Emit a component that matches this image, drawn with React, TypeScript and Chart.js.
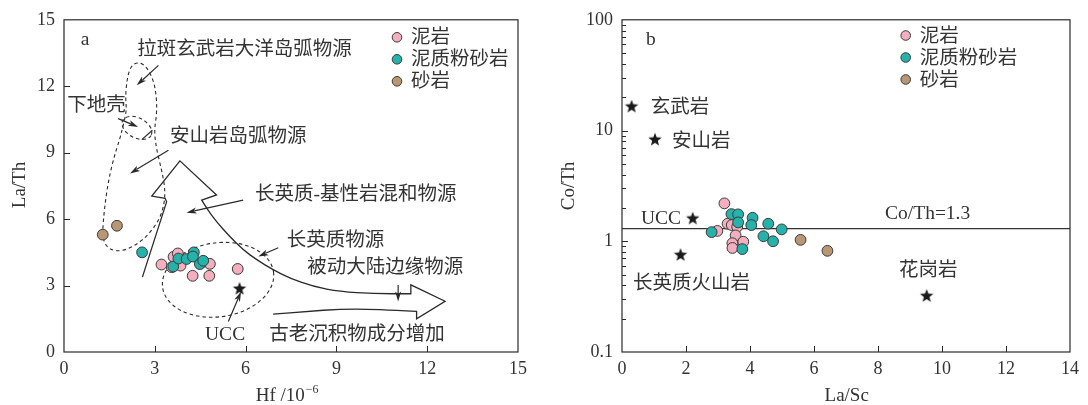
import React, { useEffect, useRef } from 'react';
import { Chart, registerables } from 'chart.js';

Chart.register(...registerables);

// ---------- Panel a: Hf (10^-6) vs La/Th ----------
const hfTicks = [0, 3, 6, 9, 12, 15];
const laThTicks = [0, 3, 6, 9, 12, 15];
const mudstoneA: number[][] = [
  [3.22, 3.95], [3.56, 3.83], [3.85, 3.9], [3.62, 4.3], [3.76, 4.45],
  [4.62, 4.08], [4.82, 3.98], [4.25, 3.44], [4.8, 3.44], [5.74, 3.75],
];
const siltstoneA: number[][] = [
  [2.58, 4.5], [3.61, 3.86], [3.78, 4.22], [4.05, 4.2], [4.29, 4.5],
  [4.26, 4.31], [4.49, 3.97], [4.6, 4.12],
];
const sandstoneA: number[][] = [[1.28, 5.3], [1.75, 5.7]];
const uccA: number[][] = [[5.8, 2.85]];

// ---------- Panel b: La/Sc vs Co/Th ----------
const laScTicks = [0, 2, 4, 6, 8, 10, 12, 14];
const coThMajor = [0.1, 1, 10, 100];
const mudstoneB: number[][] = [
  [3.2, 2.2], [3.3, 1.44], [3.43, 1.4], [3.6, 1.35], [2.98, 1.24],
  [3.55, 1.13], [3.79, 0.99], [3.45, 0.96], [3.45, 0.87],
];
const siltstoneB: number[][] = [
  [3.42, 1.76], [3.63, 1.75], [3.63, 1.48], [4.08, 1.63], [4.04, 1.4],
  [4.57, 1.44], [4.99, 1.28], [2.8, 1.21], [4.42, 1.11], [4.72, 1.0], [3.76, 0.85],
];
const sandstoneB: number[][] = [[5.58, 1.03], [6.42, 0.82]];
const refRockNames = ['玄武岩', '安山岩', 'UCC', '长英质火山岩', '花岗岩'];
const refRockLaSc = [0.3, 1.03, 2.21, 1.83, 9.52];
const refRockCoTh = [16.4, 8.25, 1.6, 0.75, 0.32];
const coThRatio = 1.3;

const legendNames = ['泥岩', '泥质粉砂岩', '砂岩'];

// ---------- styles ----------
const PINK = '#F3AEBF';
const TEAL = '#25B2AB';
const BROWN = '#B99674';
const EDGE = '#3a3a3a';
const INK = '#2a2a2a';
const TEXT = '#333333';
const SERIF = '"Liberation Serif", "Noto Sans CJK SC", serif';
const legendColors = [PINK, TEAL, BROWN];

// ---------- panel a diagram overlays (data units) ----------
const andesiteField: number[][] = [
  [2.07, 10.9], [1.95, 10.2], [1.85, 9.65], [1.63, 8.7], [1.45, 7.6], [1.33, 6.4],
  [1.27, 5.4], [1.33, 4.9], [1.55, 4.6], [1.9, 4.55], [2.35, 4.8], [2.8, 5.3],
  [3.18, 6.05], [3.33, 6.8], [3.33, 7.5], [3.21, 8.3], [3.05, 9.2], [2.98, 10.0],
  [3.07, 10.8], [3.05, 11.6], [2.95, 12.3], [2.72, 12.9], [2.45, 13.1], [2.2, 12.9],
  [2.08, 12.3], [2.03, 11.5],
];
const lowerCrust = { cx: 2.41, cy: 10.12, rxPx: 16, ryPx: 10, rot: 28 };
const felsicField = { cx: 5.09, cy: 3.26, rx: 1.85, ry: 1.67, rot: -8 };
const mixShaft: number[][] = [
  [2.59, 3.38], [3.39, 6.78], [3.34, 6.94], [2.9, 7.04], [3.83, 8.63], [5.04, 7.09], [4.55, 6.86],
];
const mixCurve: number[][] = [
  [4.55, 6.86], [4.71, 6.49], [5.04, 5.88], [5.48, 5.21], [5.92, 4.61], [6.37, 4.16],
  [6.91, 3.71], [7.47, 3.33], [8.24, 2.95], [9.12, 2.73], [10.22, 2.63], [11.46, 2.63],
];
const mixHead: number[][] = [[11.46, 2.63], [11.46, 3.03], [12.59, 2.29], [11.65, 1.5], [11.65, 1.83]];
const mixTail: number[][] = [[11.65, 1.83], [10.22, 1.94], [9.12, 1.94], [8.02, 1.83], [6.91, 1.71]];
const arrowsA: number[][] = [
  [3.12, 12.94, 2.4, 12.04],
  [1.79, 10.54, 2.45, 10.16],
  [3.45, 9.11, 2.18, 8.06],
  [5.92, 6.86, 4.05, 6.29],
  [7.08, 4.71, 6.42, 4.31],
  [5.43, 1.38, 5.85, 2.73],
  [11.04, 3.03, 11.04, 2.28],
];
const tickLineA: number[][] = [[2.57, 9.59, 2.92, 10.01]];
const labelsA: [string, number, number][] = [
  ['a', 0.55, 14.16],
  ['拉斑玄武岩大洋岛弧物源', 2.42, 13.69],
  ['下地壳', 0.11, 11.17],
  ['安山岩岛弧物源', 3.5, 9.74],
  ['长英质-基性岩混和物源', 6.31, 7.13],
  ['长英质物源', 7.36, 5.06],
  ['被动大陆边缘物源', 8.04, 3.83],
  ['UCC', 4.66, 0.82],
  ['古老沉积物成分增加', 6.78, 0.82],
];
// label anchors for panel b (left-middle, data units)
const labelsB: [string, number, number][] = [
  ['b', 0.75, 67.4],
  [refRockNames[0], 0.9, 16.4],
  [refRockNames[1], 1.56, 8.13],
  [refRockNames[2], 0.59, 1.61],
  [refRockNames[3], 0.34, 0.42],
  [refRockNames[4], 8.66, 0.548],
  ['Co/Th=' + coThRatio, 8.22, 1.8],
];

const toXY = (arr: number[][]) => arr.map(([x, y]) => ({ x, y }));

function makeStar(r: number) {
  const c = document.createElement('canvas');
  const s = Math.ceil(r * 2 + 2);
  c.width = s;
  c.height = s;
  const g = c.getContext('2d')!;
  g.fillStyle = '#1a1a1a';
  g.beginPath();
  for (let i = 0; i < 10; i++) {
    const a = -Math.PI / 2 + (i * Math.PI) / 5;
    const rr = i % 2 ? r * 0.42 : r;
    g.lineTo(s / 2 + rr * Math.cos(a), s / 2 + rr * Math.sin(a));
  }
  g.closePath();
  g.fill();
  return c;
}

function pointDataset(label: string, data: number[][], color: string, order: number) {
  return {
    label,
    data: toXY(data),
    backgroundColor: color,
    borderColor: EDGE,
    borderWidth: 1,
    pointRadius: 5.4,
    order,
  };
}

function arrowLine(ctx: CanvasRenderingContext2D, x1: number, y1: number, x2: number, y2: number) {
  const a = Math.atan2(y2 - y1, x2 - x1);
  const len = 10;
  const hw = 3;
  ctx.beginPath();
  ctx.moveTo(x1, y1);
  ctx.lineTo(x2 - Math.cos(a) * len * 0.8, y2 - Math.sin(a) * len * 0.8);
  ctx.stroke();
  ctx.beginPath();
  ctx.moveTo(x2, y2);
  ctx.lineTo(x2 - Math.cos(a) * len - Math.sin(a) * hw, y2 - Math.sin(a) * len + Math.cos(a) * hw);
  ctx.lineTo(x2 - Math.cos(a) * len * 0.75, y2 - Math.sin(a) * len * 0.75);
  ctx.lineTo(x2 - Math.cos(a) * len + Math.sin(a) * hw, y2 - Math.sin(a) * len - Math.cos(a) * hw);
  ctx.closePath();
  ctx.fill();
}

function smoothClosed(ctx: CanvasRenderingContext2D, pts: number[][]) {
  const n = pts.length;
  const mid = (p: number[], q: number[]) => [(p[0] + q[0]) / 2, (p[1] + q[1]) / 2];
  const m0 = mid(pts[n - 1], pts[0]);
  ctx.beginPath();
  ctx.moveTo(m0[0], m0[1]);
  for (let i = 0; i < n; i++) {
    const p = pts[i];
    const m = mid(p, pts[(i + 1) % n]);
    ctx.quadraticCurveTo(p[0], p[1], m[0], m[1]);
  }
  ctx.closePath();
  ctx.stroke();
}

function drawFrame(chart: any, xTicks: number[], yMajor: number[], yMinor: number[]) {
  const { ctx, chartArea: ca, scales } = chart;
  ctx.save();
  ctx.strokeStyle = INK;
  ctx.lineWidth = 1.2;
  ctx.setLineDash([]);
  ctx.strokeRect(ca.left, ca.top, ca.right - ca.left, ca.bottom - ca.top);
  ctx.beginPath();
  xTicks.forEach((v) => {
    const px = Math.round(scales.x.getPixelForValue(v)) + 0.5;
    if (px <= ca.left + 1 || px >= ca.right - 1) return;
    ctx.moveTo(px, ca.bottom);
    ctx.lineTo(px, ca.bottom - 6);
  });
  yMajor.forEach((v) => {
    const py = Math.round(scales.y.getPixelForValue(v)) + 0.5;
    if (py <= ca.top + 1 || py >= ca.bottom - 1) return;
    ctx.moveTo(ca.left, py);
    ctx.lineTo(ca.left + 6, py);
  });
  yMinor.forEach((v) => {
    const py = Math.round(scales.y.getPixelForValue(v)) + 0.5;
    ctx.moveTo(ca.left, py);
    ctx.lineTo(ca.left + 4, py);
  });
  ctx.lineWidth = 1;
  ctx.stroke();
  ctx.restore();
}

function drawLegend(ctx: CanvasRenderingContext2D, x: number, y: number) {
  ctx.save();
  legendNames.forEach((name, i) => {
    const cy = y + i * 22;
    ctx.beginPath();
    ctx.arc(x, cy, 4.8, 0, Math.PI * 2);
    ctx.fillStyle = legendColors[i];
    ctx.fill();
    ctx.strokeStyle = EDGE;
    ctx.lineWidth = 1;
    ctx.stroke();
    ctx.fillStyle = TEXT;
    ctx.font = `19.5px ${SERIF}`;
    ctx.textBaseline = 'middle';
    ctx.textAlign = 'left';
    ctx.fillText(name, x + 14, cy + 1);
  });
  ctx.restore();
}

function drawLabels(chart: any, labels: [string, number, number][]) {
  const { ctx, scales } = chart;
  ctx.save();
  ctx.fillStyle = TEXT;
  ctx.font = `19.5px ${SERIF}`;
  ctx.textBaseline = 'middle';
  ctx.textAlign = 'left';
  labels.forEach(([t, x, y]) => {
    ctx.fillText(t, scales.x.getPixelForValue(x), scales.y.getPixelForValue(y) + 1);
  });
  ctx.restore();
}

function drawYTitle(ctx: CanvasRenderingContext2D, text: string, x: number, y: number) {
  ctx.save();
  ctx.translate(x, y);
  ctx.rotate(-Math.PI / 2);
  ctx.fillStyle = TEXT;
  ctx.font = `19px ${SERIF}`;
  ctx.textAlign = 'center';
  ctx.textBaseline = 'alphabetic';
  ctx.fillText(text, 0, 0);
  ctx.restore();
}

const panelAOverlay = {
  id: 'panelAOverlay',
  beforeDatasetsDraw(chart: any) {
    const { ctx, scales } = chart;
    const X = (v: number) => scales.x.getPixelForValue(v);
    const Y = (v: number) => scales.y.getPixelForValue(v);
    const P = (p: number[]) => [X(p[0]), Y(p[1])];
    ctx.save();
    ctx.strokeStyle = INK;
    ctx.fillStyle = INK;
    ctx.lineWidth = 1.1;
    ctx.setLineDash([3.5, 3]);
    smoothClosed(ctx, andesiteField.map(P));
    ctx.beginPath();
    ctx.ellipse(X(lowerCrust.cx), Y(lowerCrust.cy), lowerCrust.rxPx, lowerCrust.ryPx,
      (lowerCrust.rot * Math.PI) / 180, 0, Math.PI * 2);
    ctx.stroke();
    const frx = X(felsicField.cx + felsicField.rx) - X(felsicField.cx);
    const fry = Y(felsicField.cy) - Y(felsicField.cy + felsicField.ry);
    ctx.beginPath();
    ctx.ellipse(X(felsicField.cx), Y(felsicField.cy), frx, fry,
      (felsicField.rot * Math.PI) / 180, 0, Math.PI * 2);
    ctx.stroke();

    // mixing trend arrow outline
    ctx.setLineDash([]);
    ctx.lineWidth = 1.3;
    ctx.lineJoin = 'miter';
    ctx.beginPath();
    mixShaft.map(P).forEach(([x, y], i) => (i ? ctx.lineTo(x, y) : ctx.moveTo(x, y)));
    const cv = mixCurve.map(P);
    for (let i = 1; i < cv.length - 1; i++) {
      const mx = (cv[i][0] + cv[i + 1][0]) / 2;
      const my = (cv[i][1] + cv[i + 1][1]) / 2;
      ctx.quadraticCurveTo(cv[i][0], cv[i][1], mx, my);
    }
    ctx.lineTo(cv[cv.length - 1][0], cv[cv.length - 1][1]);
    mixHead.map(P).forEach(([x, y]) => ctx.lineTo(x, y));
    const tl = mixTail.map(P);
    for (let i = 1; i < tl.length - 1; i++) {
      const mx = (tl[i][0] + tl[i + 1][0]) / 2;
      const my = (tl[i][1] + tl[i + 1][1]) / 2;
      ctx.quadraticCurveTo(tl[i][0], tl[i][1], mx, my);
    }
    ctx.lineTo(tl[tl.length - 1][0], tl[tl.length - 1][1]);
    ctx.stroke();

    ctx.lineWidth = 1.2;
    arrowsA.forEach(([x1, y1, x2, y2]) => arrowLine(ctx, X(x1), Y(y1), X(x2), Y(y2)));
    ctx.beginPath();
    tickLineA.forEach(([x1, y1, x2, y2]) => {
      ctx.moveTo(X(x1), Y(y1));
      ctx.lineTo(X(x2), Y(y2));
    });
    ctx.stroke();
    ctx.restore();
  },
  afterDraw(chart: any) {
    const { ctx, chartArea: ca } = chart;
    drawFrame(chart, hfTicks, laThTicks, []);
    drawLabels(chart, labelsA);
    drawLegend(ctx, ca.left + 333, ca.top + 17.5);
    // axis titles
    ctx.save();
    ctx.fillStyle = TEXT;
    ctx.font = `19px ${SERIF}`;
    ctx.textBaseline = 'alphabetic';
    ctx.textAlign = 'left';
    const main = 'Hf /10';
    const w = ctx.measureText(main).width;
    ctx.font = `12px ${SERIF}`;
    const ws = ctx.measureText('−6').width;
    const x0 = 286.7 - (w + ws) / 2;
    ctx.font = `19px ${SERIF}`;
    ctx.fillText(main, x0, 401);
    ctx.font = `12px ${SERIF}`;
    ctx.fillText('−6', x0 + w + 1, 393);
    ctx.restore();
    drawYTitle(ctx, 'La/Th', 25, 185);
  },
};

const panelBOverlay = {
  id: 'panelBOverlay',
  afterDraw(chart: any) {
    const { ctx, chartArea: ca } = chart;
    const minor: number[] = [];
    for (let e = -1; e < 2; e++) {
      for (let m = 2; m <= 9; m++) minor.push(m * Math.pow(10, e));
    }
    drawFrame(chart, laScTicks, coThMajor, minor);
    drawLabels(chart, labelsB);
    drawLegend(ctx, ca.left + 283.7, ca.top + 15.7);
    ctx.save();
    ctx.fillStyle = TEXT;
    ctx.font = `19px ${SERIF}`;
    ctx.textAlign = 'center';
    ctx.textBaseline = 'alphabetic';
    ctx.fillText('La/Sc', 846.7 - 544, 401);
    ctx.restore();
    drawYTitle(ctx, 'Co/Th', 574 - 544, 186);
  },
};

const tickFont = { family: '"Liberation Serif", serif', size: 18 };

function baseOptions(rightPad: number) {
  return {
    responsive: false,
    animation: false as const,
    devicePixelRatio: 1,
    events: [],
    layout: { padding: { top: 19, right: rightPad, left: 0, bottom: 0 } },
    plugins: { legend: { display: false }, tooltip: { enabled: false } },
  };
}

export default function App() {
  const refA = useRef<HTMLCanvasElement>(null);
  const refB = useRef<HTMLCanvasElement>(null);

  useEffect(() => {
    const star = makeStar(7);
    const starDataset = (data: number[][]) => ({
      label: 'star',
      data: toXY(data),
      pointStyle: star,
      pointRadius: 7,
      backgroundColor: '#1a1a1a',
      borderColor: '#1a1a1a',
      order: 0,
    });

    const chartA = new Chart(refA.current!, {
      type: 'scatter',
      data: {
        datasets: [
          pointDataset(legendNames[0], mudstoneA, PINK, 3),
          pointDataset(legendNames[1], siltstoneA, TEAL, 2),
          pointDataset(legendNames[2], sandstoneA, BROWN, 2),
          starDataset(uccA) as any,
        ],
      },
      options: {
        ...baseOptions(26),
        scales: {
          x: {
            type: 'linear',
            min: 0,
            max: 15,
            afterBuildTicks: (s: any) => { s.ticks = hfTicks.map((value) => ({ value })); },
            afterFit: (s: any) => { s.height = 53; },
            grid: { display: false, drawTicks: false },
            border: { display: false },
            ticks: { font: tickFont, color: TEXT, padding: 6, maxRotation: 0 },
          },
          y: {
            type: 'linear',
            min: 0,
            max: 15,
            afterBuildTicks: (s: any) => { s.ticks = laThTicks.map((value) => ({ value })); },
            afterFit: (s: any) => { s.width = 64; },
            grid: { display: false, drawTicks: false },
            border: { display: false },
            ticks: { font: tickFont, color: TEXT, padding: 9 },
          },
        },
      } as any,
      plugins: [panelAOverlay],
    });

    const chartB = new Chart(refB.current!, {
      type: 'scatter',
      data: {
        datasets: [
          {
            label: 'Co/Th',
            data: [{ x: 0, y: coThRatio }, { x: 14, y: coThRatio }],
            showLine: true,
            pointRadius: 0,
            borderColor: '#333',
            borderWidth: 1.3,
            order: 9,
          } as any,
          pointDataset(legendNames[0], mudstoneB, PINK, 3),
          pointDataset(legendNames[1], siltstoneB, TEAL, 2),
          pointDataset(legendNames[2], sandstoneB, BROWN, 2),
          starDataset(refRockLaSc.map((x, i) => [x, refRockCoTh[i]])) as any,
        ],
      },
      options: {
        ...baseOptions(18),
        scales: {
          x: {
            type: 'linear',
            min: 0,
            max: 14,
            afterBuildTicks: (s: any) => { s.ticks = laScTicks.map((value) => ({ value })); },
            afterFit: (s: any) => { s.height = 53; },
            grid: { display: false, drawTicks: false },
            border: { display: false },
            ticks: { font: tickFont, color: TEXT, padding: 6, maxRotation: 0 },
          },
          y: {
            type: 'logarithmic',
            min: 0.1,
            max: 100,
            afterBuildTicks: (s: any) => { s.ticks = coThMajor.map((value) => ({ value })); },
            afterFit: (s: any) => { s.width = 78; },
            grid: { display: false, drawTicks: false },
            border: { display: false },
            ticks: {
              font: tickFont,
              color: TEXT,
              padding: 9,
              autoSkip: false,
              callback: (v: number) => String(v),
            },
          },
        },
      } as any,
      plugins: [panelBOverlay],
    });

    return () => {
      chartA.destroy();
      chartB.destroy();
    };
  }, []);

  return (
    <div style={{ position: 'fixed', left: 0, top: 0, width: 1088, height: 405, background: '#fff' }}>
      <canvas ref={refA} width={544} height={405} style={{ position: 'absolute', left: 0, top: 0 }} />
      <canvas ref={refB} width={544} height={405} style={{ position: 'absolute', left: 544, top: 0 }} />
    </div>
  );
}
